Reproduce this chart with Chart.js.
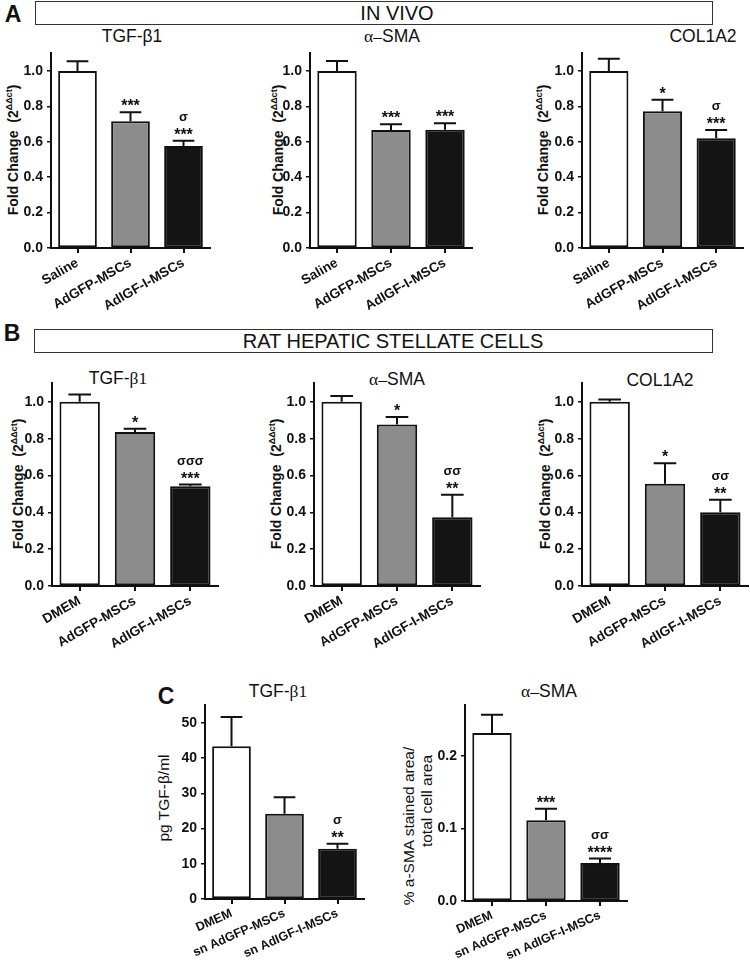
<!DOCTYPE html>
<html>
<head>
<meta charset="utf-8">
<script src="https://cdn.jsdelivr.net/npm/chart.js@4.4.1/dist/chart.umd.min.js"></script>
<style>
body { margin:0; width:750px; height:969px; position:relative; background:#fff; overflow:hidden;
       font-family:"Liberation Sans", Arial, sans-serif; color:#111; }
canvas { position:absolute; }
.t { position:absolute; transform:translate(-50%,-50%); white-space:nowrap; line-height:1; }
.letter { font-weight:bold; font-size:23px; }
.hdr { font-size:20px; }
.ttl { font-size:17.5px; }
.ser { font-family:"Liberation Serif", "Times New Roman", serif; }
.box { position:absolute; box-sizing:border-box; border:1.5px solid #333; }
.yt { position:absolute; transform:translate(-50%,-50%) rotate(-90deg); white-space:nowrap; line-height:1;
      font-weight:bold; font-size:14px; }
.yt sup { font-size:9px; vertical-align:6px; }
.ytn { font-weight:normal; font-size:15.5px; }
</style>
</head>
<body>

<!-- panel A -->
<div class="t letter" style="left:13px;top:14px">A</div>
<div class="box" style="left:35px;top:1px;width:678px;height:24px"></div>
<div class="t hdr" style="left:397px;top:13px">IN VIVO</div>
<div class="t ttl" style="left:132px;top:37px">TGF-β1</div>
<div class="t ttl" style="left:392px;top:37px"><span class="ser">α–</span>SMA</div>
<div class="t ttl" style="left:703px;top:37px">COL1A2</div>
<div class="yt" style="left:12px;top:150px">Fold Change&nbsp; (2<sup>ΔΔct</sup>)</div>
<div class="yt" style="left:277px;top:150px">Fold Change&nbsp; (2<sup>ΔΔct</sup>)</div>
<div class="yt" style="left:542px;top:150px">Fold Change&nbsp; (2<sup>ΔΔct</sup>)</div>

<!-- panel B -->
<div class="t letter" style="left:12px;top:333px">B</div>
<div class="box" style="left:34px;top:329px;width:679px;height:24px"></div>
<div class="t hdr" style="left:393px;top:341px">RAT HEPATIC STELLATE CELLS</div>
<div class="t ttl" style="left:118px;top:379px">TGF-<span class="ser">β1</span></div>
<div class="t ttl" style="left:397px;top:380px"><span class="ser">α–</span>SMA</div>
<div class="t ttl" style="left:660px;top:381px">COL1A2</div>
<div class="yt" style="left:17px;top:484px">Fold Change&nbsp; (2<sup>ΔΔct</sup>)</div>
<div class="yt" style="left:275px;top:484px">Fold Change&nbsp; (2<sup>ΔΔct</sup>)</div>
<div class="yt" style="left:544px;top:484px">Fold Change&nbsp; (2<sup>ΔΔct</sup>)</div>

<!-- panel C -->
<div class="t letter" style="left:166px;top:696px">C</div>
<div class="t ttl" style="left:278px;top:692px">TGF-<span class="ser">β1</span></div>
<div class="t ttl" style="left:549px;top:692px"><span class="ser">α–</span>SMA</div>
<div class="yt ytn" style="left:164px;top:798px">pg TGF-β/ml</div>
<div class="yt ytn" style="left:409px;top:826px">% a-SMA stained area/</div>
<div class="yt ytn" style="left:427px;top:801px">total cell area</div>

<script>
/* values (mean and SEM, bar heights) */
var groupsVivo = ['Saline', 'AdGFP-MSCs', 'AdIGF-I-MSCs'];
var groupsHsc = ['DMEM', 'AdGFP-MSCs', 'AdIGF-I-MSCs'];
var groupsSn = ['DMEM', 'sn AdGFP-MSCs', 'sn AdIGF-I-MSCs'];

var vivoTgf = [1.00, 0.716, 0.577];
var vivoTgfErr = [0.055, 0.052, 0.029];
var vivoTgfStars = ['', '***', '***'];
var vivoTgfSigma = ['', '', 'σ'];

var vivoSma = [1.00, 0.667, 0.669];
var vivoSmaErr = [0.057, 0.033, 0.036];
var vivoSmaStars = ['', '***', '***'];
var vivoSmaSigma = ['', '', ''];

var vivoCol = [1.00, 0.773, 0.621];
var vivoColErr = [0.070, 0.065, 0.046];
var vivoColStars = ['', '*', '***'];
var vivoColSigma = ['', '', 'σ'];

var hscTgf = [1.00, 0.836, 0.542];
var hscTgfErr = [0.040, 0.018, 0.009];
var hscTgfStars = ['', '*', '***'];
var hscTgfSigma = ['', '', 'σσσ'];

var hscSma = [1.00, 0.877, 0.373];
var hscSmaErr = [0.031, 0.040, 0.122];
var hscSmaStars = ['', '*', '**'];
var hscSmaSigma = ['', '', 'σσ'];

var hscCol = [1.00, 0.555, 0.400];
var hscColErr = [0.013, 0.112, 0.068];
var hscColStars = ['', '*', '**'];
var hscColSigma = ['', '', 'σσ'];

var snTgf = [43.4, 24.2, 14.3];
var snTgfErr = [8.3, 4.7, 1.4];
var snTgfStars = ['', '', '**'];
var snTgfSigma = ['', '', 'σ'];

var snSma = [0.232, 0.1115, 0.0526];
var snSmaErr = [0.025, 0.016, 0.006];
var snSmaStars = ['', '***', '****'];
var snSmaSigma = ['', '', 'σσ'];

var barColors = ['#ffffff', '#8c8c8c', '#141414'];

Chart.defaults.font.family = '"Liberation Sans", Arial, sans-serif';
Chart.defaults.color = '#111';

/* upper SEM whisker plus significance marks above it */
function errPlugin(err, stars, sigma) {
  return {
    id: 'errbars',
    afterDatasetsDraw: function(chart) {
      var ctx = chart.ctx;
      var ys = chart.scales.y;
      var vals = chart.data.datasets[0].data;
      ctx.save();
      chart.getDatasetMeta(0).data.forEach(function(bar, i) {
        var top = ys.getPixelForValue(vals[i] + err[i]);
        var half = bar.width * 0.28;
        ctx.strokeStyle = '#111';
        ctx.lineWidth = 2;
        ctx.beginPath();
        ctx.moveTo(bar.x, bar.y);
        ctx.lineTo(bar.x, top);
        ctx.moveTo(bar.x - half, top);
        ctx.lineTo(bar.x + half, top);
        ctx.stroke();
        ctx.fillStyle = '#111';
        ctx.textAlign = 'center';
        ctx.textBaseline = 'alphabetic';
        if (stars[i]) {
          ctx.font = 'bold 16px "Liberation Sans", Arial, sans-serif';
          ctx.fillText(stars[i], bar.x, top - 1);
        }
        if (sigma[i]) {
          ctx.font = 'bold 13px "Liberation Sans", Arial, sans-serif';
          ctx.fillText(sigma[i], bar.x, top - 20);
        }
      });
      ctx.restore();
    }
  };
}

// fixed axis sizes so the plot areas land where the figure has them
var YW = 52, XH = 85, PT = 12, PR = 12, PL = 70;

function makeChart(area, labels, values, err, stars, sigma, yMax, yStep, digits, rot, labelSize) {
  var cv = document.createElement('canvas');
  var w = area.r - area.l + YW + PR + PL;
  var h = area.b - area.t + PT + XH;
  cv.width = w; cv.height = h;
  cv.style.left = (area.l - YW - PL) + 'px';
  cv.style.top = (area.t - PT) + 'px';
  cv.style.width = w + 'px';
  cv.style.height = h + 'px';
  document.body.appendChild(cv);

  return new Chart(cv, {
    type: 'bar',
    data: {
      labels: labels,
      datasets: [{
        data: values,
        backgroundColor: barColors,
        borderColor: '#111',
        borderWidth: 2,
        borderSkipped: false,
        barPercentage: 0.73,
        categoryPercentage: 1.0
      }]
    },
    options: {
      responsive: false,
      maintainAspectRatio: false,
      animation: false,
      events: [],
      layout: { padding: { left: PL, top: PT, right: PR, bottom: 0 } },
      plugins: { legend: { display: false }, tooltip: { enabled: false } },
      scales: {
        x: {
          offset: true,
          grid: { display: true, offset: false, drawOnChartArea: false, drawTicks: true,
                  tickLength: 5, color: '#111', lineWidth: 2 },
          border: { display: true, color: '#111', width: 2 },
          ticks: { minRotation: rot, maxRotation: rot, autoSkip: false, padding: 2,
                   font: { size: labelSize, weight: 'bold' }, color: '#111' },
          afterFit: function(s) { s.height = XH; }
        },
        y: {
          min: 0, max: yMax,
          grid: { display: true, drawOnChartArea: false, drawTicks: true,
                  tickLength: 4, color: '#111', lineWidth: 1.5 },
          border: { display: true, color: '#111', width: 2 },
          ticks: { stepSize: yStep, includeBounds: false, padding: 4,
                   font: { size: 14, weight: 'bold' }, color: '#111',
                   callback: function(v) { return Number(v).toFixed(digits); } },
          afterFit: function(s) { s.width = YW; }
        }
      }
    },
    plugins: [errPlugin(err, stars, sigma)]
  });
}

makeChart({l: 51, r: 210, t: 53, b: 248}, groupsVivo, vivoTgf, vivoTgfErr, vivoTgfStars, vivoTgfSigma, 1.1, 0.2, 1, 30, 13.5);
makeChart({l: 310, r: 472, t: 53, b: 248}, groupsVivo, vivoSma, vivoSmaErr, vivoSmaStars, vivoSmaSigma, 1.1, 0.2, 1, 30, 13.5);
makeChart({l: 582, r: 743, t: 53, b: 248}, groupsVivo, vivoCol, vivoColErr, vivoColStars, vivoColSigma, 1.1, 0.2, 1, 30, 13.5);

makeChart({l: 52, r: 218, t: 383, b: 586}, groupsHsc, hscTgf, hscTgfErr, hscTgfStars, hscTgfSigma, 1.1, 0.2, 1, 30, 13.5);
makeChart({l: 314, r: 480, t: 383, b: 586}, groupsHsc, hscSma, hscSmaErr, hscSmaStars, hscSmaSigma, 1.1, 0.2, 1, 30, 13.5);
makeChart({l: 582, r: 748, t: 383, b: 586}, groupsHsc, hscCol, hscColErr, hscColStars, hscColSigma, 1.1, 0.2, 1, 30, 13.5);

makeChart({l: 205, r: 364, t: 705, b: 899}, groupsSn, snTgf, snTgfErr, snTgfStars, snTgfSigma, 55, 10, 0, 24, 12.5);
makeChart({l: 465, r: 627, t: 705, b: 901}, groupsSn, snSma, snSmaErr, snSmaStars, snSmaSigma, 0.27, 0.1, 1, 24, 12.5);
</script>
</body>
</html>
